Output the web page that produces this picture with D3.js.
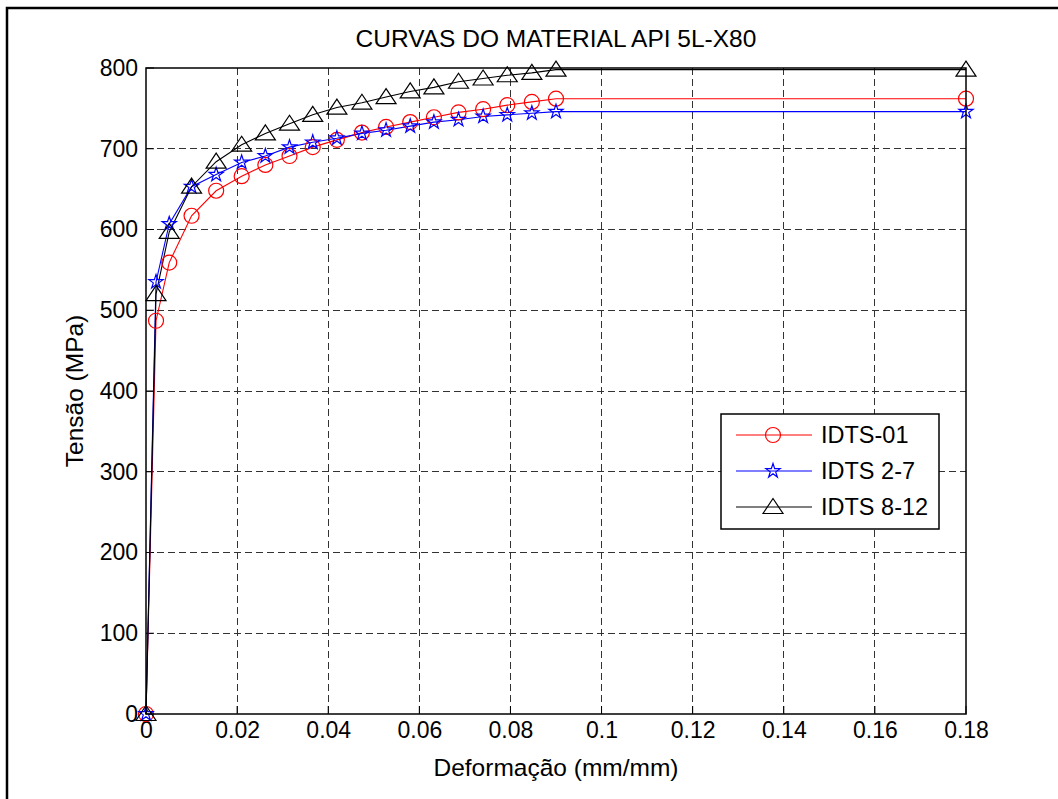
<!DOCTYPE html>
<html lang="pt">
<head>
    <meta charset="UTF-8">
    <title>Curvas do material API 5L-X80</title>
    <script src="https://cdnjs.cloudflare.com/ajax/libs/d3/7.8.5/d3.min.js"></script>
    <style>
        body {
            margin: 0;
            background-color: white;
            font-family: "Liberation Sans", Arial, sans-serif;
        }
        .axis text {
            font-size: 23px;
            fill: #000;
        }
        .grid line {
            stroke: #333;
            stroke-dasharray: 7,4;
            shape-rendering: crispEdges;
        }
    </style>
</head>
<body>
    <div id="chart"></div>

    <script>
        // Valores
        const strain = [0, 0.0022, 0.0051, 0.0100, 0.0154, 0.0210, 0.0262, 0.0315, 0.0366, 0.0419,
                        0.0474, 0.0527, 0.0580, 0.0632, 0.0686, 0.0740, 0.0793, 0.0847, 0.0900, 0.18];
        const idts01 = [0, 487, 559, 617, 648, 666, 680, 691, 702, 711, 720, 727, 733, 739, 745, 749, 754, 758, 762, 762];
        const idts27 = [0, 535, 607, 653, 668, 683, 691, 702, 708, 713, 719, 723, 728, 733, 736, 740, 742, 744, 746, 746];
        const idts812 = [0, 520, 597, 653, 684, 705, 719, 731, 742, 751, 757, 764, 771, 776, 783, 787, 791, 794, 798, 798];
        const seriesNames = ["IDTS-01", "IDTS 2-7", "IDTS 8-12"];
        const xTicks = [0, 0.02, 0.04, 0.06, 0.08, 0.1, 0.12, 0.14, 0.16, 0.18];
        const yTicks = [0, 100, 200, 300, 400, 500, 600, 700, 800];

        const width = 1058, height = 799;
        const margin = { top: 68, right: 92, bottom: 85, left: 146 };
        const chartWidth = width - margin.left - margin.right;
        const chartHeight = height - margin.top - margin.bottom;

        const svg = d3.select("#chart").append("svg")
            .attr("width", width)
            .attr("height", height);

        // moldura externa (só esquerda e topo visíveis)
        svg.append("path")
            .attr("d", `M7,${height} L7,8 L${width},8`)
            .attr("fill", "none")
            .attr("stroke", "#000")
            .attr("stroke-width", 2.5);

        const chart = svg.append("g")
            .attr("transform", `translate(${margin.left},${margin.top})`);

        const x = d3.scaleLinear().domain([0, 0.18]).range([0, chartWidth]);
        const y = d3.scaleLinear().domain([0, 800]).range([chartHeight, 0]);

        // grade
        chart.append("g").attr("class", "grid")
            .selectAll("line").data(xTicks.slice(1, -1)).enter().append("line")
            .attr("x1", d => x(d)).attr("x2", d => x(d))
            .attr("y1", 0).attr("y2", chartHeight);
        chart.append("g").attr("class", "grid")
            .selectAll("line").data(yTicks.slice(1, -1)).enter().append("line")
            .attr("x1", 0).attr("x2", chartWidth)
            .attr("y1", d => y(d)).attr("y2", d => y(d));

        // eixos
        chart.append("g")
            .attr("class", "axis")
            .attr("transform", `translate(0,${chartHeight})`)
            .call(d3.axisBottom(x).tickValues(xTicks).tickSize(0).tickPadding(8).tickFormat(d3.format("")));
        chart.append("g")
            .attr("class", "axis")
            .call(d3.axisLeft(y).tickValues(yTicks).tickSize(0).tickPadding(8));
        chart.selectAll(".axis .domain").remove();
        chart.selectAll(".axis text").style("font-family", "'Liberation Sans', Arial, sans-serif");

        // marcas de escala internas
        chart.append("g").selectAll("line").data(xTicks).enter().append("line")
            .attr("x1", d => x(d)).attr("x2", d => x(d))
            .attr("y1", chartHeight).attr("y2", chartHeight - 8)
            .attr("stroke", "#000");
        chart.append("g").selectAll("line").data(yTicks).enter().append("line")
            .attr("x1", 0).attr("x2", 8)
            .attr("y1", d => y(d)).attr("y2", d => y(d))
            .attr("stroke", "#000");

        // marcadores
        function marker(g, type, color) {
            if (type === "circle") {
                g.append("circle").attr("r", 7.5)
                    .attr("fill", "none").attr("stroke", color).attr("stroke-width", 1.2);
            } else if (type === "star") {
                g.append("path").attr("d", d3.symbol().type(d3.symbolStar).size(63)())
                    .attr("fill", "none").attr("stroke", color).attr("stroke-width", 1.2);
            } else {
                g.append("path").attr("d", "M0,-8.5L10,6.5L-10,6.5Z")
                    .attr("fill", "none").attr("stroke", color).attr("stroke-width", 1.2);
            }
        }

        const series = [
            { name: seriesNames[0], values: idts01, color: "#ff0000", type: "circle" },
            { name: seriesNames[1], values: idts27, color: "#0000ff", type: "star" },
            { name: seriesNames[2], values: idts812, color: "#000000", type: "triangle" }
        ];

        const line = d3.line()
            .x((d, i) => x(strain[i]))
            .y(d => y(d));

        series.forEach(s => {
            chart.append("path")
                .datum(s.values)
                .attr("fill", "none")
                .attr("stroke", s.color)
                .attr("stroke-width", 1.1)
                .attr("d", line);
        });

        series.forEach(s => {
            s.values.forEach((v, i) => {
                const g = chart.append("g")
                    .attr("transform", `translate(${x(strain[i])},${y(v)})`);
                marker(g, s.type, s.color);
            });
        });

        // caixa dos eixos
        chart.append("rect")
            .attr("width", chartWidth)
            .attr("height", chartHeight)
            .attr("fill", "none")
            .attr("stroke", "#000")
            .attr("stroke-width", 1.5);

        // legenda
        const legend = chart.append("g")
            .attr("transform", `translate(${721 - margin.left},${414 - margin.top})`);
        legend.append("rect")
            .attr("width", 218).attr("height", 115)
            .attr("fill", "white").attr("stroke", "#000").attr("stroke-width", 1.5);
        series.forEach((s, i) => {
            const row = legend.append("g").attr("transform", `translate(0,${21 + i * 36})`);
            row.append("line").attr("x1", 15).attr("x2", 91)
                .attr("stroke", s.color).attr("stroke-width", 1.1);
            marker(row.append("g").attr("transform", "translate(52,0)"), s.type, s.color);
            row.append("text").attr("x", 100).attr("y", 8)
                .style("font-size", "23.5px")
                .text(s.name);
        });

        // títulos
        svg.append("text")
            .attr("x", margin.left + chartWidth / 2).attr("y", 47)
            .attr("text-anchor", "middle")
            .style("font-size", "24.5px")
            .text("CURVAS DO MATERIAL API 5L-X80");
        svg.append("text")
            .attr("x", margin.left + chartWidth / 2).attr("y", 776)
            .attr("text-anchor", "middle")
            .style("font-size", "24.5px")
            .text("Deformação (mm/mm)");
        svg.append("text")
            .attr("transform", `translate(83,${margin.top + chartHeight / 2}) rotate(-90)`)
            .attr("text-anchor", "middle")
            .style("font-size", "24.5px")
            .text("Tensão (MPa)");
    </script>
</body>
</html>
